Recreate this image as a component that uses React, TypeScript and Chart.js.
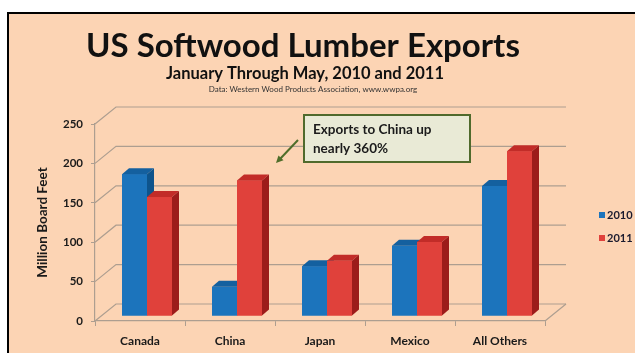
import React, { useEffect, useRef } from "react";
import { Chart, registerables } from "chart.js";

Chart.register(...registerables);

const categories = ["Canada", "China", "Japan", "Mexico", "All Others"];
const series2010 = [180, 37, 63, 89, 165];
const series2011 = [151, 172, 70, 94, 209];
const seriesLabels = ["2010", "2011"];
const yTicks = [0, 50, 100, 150, 200, 250];
const titleText = "US Softwood Lumber Exports";
const subtitleText = "January Through May, 2010 and 2011";
const sourceText = "Data: Western Wood Products Association, www.wwpa.org";
const yTitleText = "Million Board Feet";
const noteLines = ["Exports to China up", "nearly 360%"];

const FONT = "Lato, 'Open Sans', sans-serif";
const PEACH = "#FCD4B4";
const GRID = "#AD9E90";
const COLORS = [
  { front: "#1C74BC", top: "#14609F", side: "#0E548C" },
  { front: "#E0413B", top: "#C22C28", side: "#9C1C1A" },
];

// wall depth and bar placement inside the depth
const DX = 21, DY = -17;
const BX = 7, BY = -5;
const TX = 7, TY = -6;

const threeD = {
  id: "threeD",
  beforeDatasetsDraw(chart: any) {
    const { ctx, chartArea: a, scales } = chart;
    const y = scales.y;
    ctx.save();
    ctx.strokeStyle = GRID;
    ctx.lineWidth = 1.2;
    yTicks.forEach((v) => {
      const py = y.getPixelForValue(v);
      ctx.beginPath();
      ctx.moveTo(a.left, py);
      ctx.lineTo(a.left + DX, py + DY);
      ctx.lineTo(a.right + DX, py + DY);
      ctx.stroke();
    });
    const p0 = y.getPixelForValue(0);
    ctx.beginPath();
    ctx.moveTo(a.right, p0);
    ctx.lineTo(a.right + DX, p0 + DY);
    ctx.stroke();
    ctx.restore();
    ctx.save();
    ctx.translate(BX, BY);
  },
  afterDatasetsDraw(chart: any) {
    const { ctx } = chart;
    ctx.restore();
    ctx.save();
    ctx.translate(BX, BY);
    const metas = chart.data.datasets.map((_: any, i: number) => chart.getDatasetMeta(i));
    for (let c = 0; c < categories.length; c++) {
      metas.forEach((meta: any, di: number) => {
        const el = meta.data[c];
        const col = COLORS[di];
        const x0 = el.x - el.width / 2;
        const x1 = el.x + el.width / 2;
        const top = el.y;
        const base = el.base;
        ctx.fillStyle = col.front;
        ctx.fillRect(x0, top, x1 - x0, base - top);
        ctx.fillStyle = col.top;
        ctx.beginPath();
        ctx.moveTo(x0, top);
        ctx.lineTo(x1, top);
        ctx.lineTo(x1 + TX, top + TY);
        ctx.lineTo(x0 + TX, top + TY);
        ctx.closePath();
        ctx.fill();
        ctx.fillStyle = col.side;
        ctx.beginPath();
        ctx.moveTo(x1, top);
        ctx.lineTo(x1 + TX, top + TY);
        ctx.lineTo(x1 + TX, base + TY);
        ctx.lineTo(x1, base);
        ctx.closePath();
        ctx.fill();
      });
    }
    ctx.restore();
  },
  afterDraw(chart: any) {
    const { ctx } = chart;
    ctx.save();
    // titles
    ctx.fillStyle = "#111";
    ctx.textAlign = "center";
    ctx.textBaseline = "alphabetic";
    ctx.font = `bold 33px ${FONT}`;
    ctx.fillText(titleText, 303, 57);
    ctx.font = `bold 16.5px ${FONT}`;
    ctx.fillText(subtitleText, 305, 79);
    ctx.font = `8px ${FONT}`;
    ctx.fillStyle = "#333";
    ctx.fillText(sourceText, 313, 92);
    // legend
    ctx.textAlign = "left";
    ctx.textBaseline = "middle";
    ctx.font = `bold 11px ${FONT}`;
    seriesLabels.forEach((lab, i) => {
      const ly = 215 + i * 23;
      ctx.fillStyle = COLORS[i].front;
      ctx.fillRect(599, ly - 3, 6, 6);
      ctx.fillStyle = "#1A1A2E";
      ctx.fillText(lab, 607, ly);
    });
    // annotation
    ctx.fillStyle = "#E9EAD6";
    ctx.fillRect(304, 115, 166, 47);
    ctx.strokeStyle = "#506A2C";
    ctx.lineWidth = 2;
    ctx.strokeRect(304, 115, 166, 47);
    ctx.fillStyle = "#1B1B1B";
    ctx.font = `bold 13.5px ${FONT}`;
    ctx.fillText(noteLines[0], 313, 130);
    ctx.fillText(noteLines[1], 313, 149);
    // arrow
    ctx.strokeStyle = "#4F6E2A";
    ctx.fillStyle = "#4F6E2A";
    ctx.lineWidth = 2;
    const ax0 = 298, ay0 = 140, ax1 = 276, ay1 = 163;
    ctx.beginPath();
    ctx.moveTo(ax0, ay0);
    ctx.lineTo(ax1 + 4, ay1 - 4);
    ctx.stroke();
    const ang = Math.atan2(ay1 - ay0, ax1 - ax0);
    ctx.beginPath();
    ctx.moveTo(ax1, ay1);
    ctx.lineTo(ax1 - 8 * Math.cos(ang - 0.45), ay1 - 8 * Math.sin(ang - 0.45));
    ctx.lineTo(ax1 - 8 * Math.cos(ang + 0.45), ay1 - 8 * Math.sin(ang + 0.45));
    ctx.closePath();
    ctx.fill();
    ctx.restore();
  },
};

export default function App() {
  const ref = useRef<HTMLCanvasElement>(null);
  useEffect(() => {
    if (!ref.current) return;
    const chart = new Chart(ref.current, {
      type: "bar",
      data: {
        labels: categories,
        datasets: [
          { label: seriesLabels[0], data: series2010, backgroundColor: COLORS[0].front, clip: false as any },
          { label: seriesLabels[1], data: series2011, backgroundColor: COLORS[1].front, clip: false as any },
        ],
      },
      options: {
        responsive: false,
        animation: false,
        devicePixelRatio: 1,
        categoryPercentage: 50 / 90,
        barPercentage: 1,
        layout: { padding: { left: 32, right: 90, top: 124, bottom: 0 } },
        plugins: { legend: { display: false }, tooltip: { enabled: false }, title: { display: false } },
        scales: {
          x: {
            grid: { display: true, drawOnChartArea: false, tickLength: 5, color: GRID, offset: true },
            border: { color: GRID, width: 1.2 },
            ticks: { color: "#1A1A1A", padding: 8, font: { family: FONT, weight: 700, size: 12 } },
            afterFit: (s: any) => { s.height = 32; },
          },
          y: {
            min: 0,
            max: 250,
            afterBuildTicks: (s: any) => { s.ticks = yTicks.map((v) => ({ value: v })); },
            ticks: { color: "#1A1A1A", padding: 8, font: { family: FONT, weight: 700, size: 11.5 } },
            grid: { drawOnChartArea: false, tickLength: 4, color: GRID },
            border: { color: GRID, width: 1.2 },
            title: {
              display: true,
              text: yTitleText,
              color: "#1A1A1A",
              font: { family: FONT, weight: 700, size: 13.5 },
              padding: { top: 3, bottom: 4 },
            },
            afterFit: (s: any) => { s.width = 63; },
          },
        },
      } as any,
      plugins: [threeD],
    });
    return () => chart.destroy();
  }, []);
  return (
    <div style={{ position: "fixed", left: 0, top: 0, width: 635, height: 353, background: "#fff", overflow: "hidden" }}>
      <div
        style={{
          position: "absolute",
          left: 7,
          top: 12,
          right: 0,
          bottom: 0,
          background: PEACH,
          borderLeft: "2px solid #000",
          borderTop: "2px solid #000",
        }}
      />
      <canvas ref={ref} width={635} height={353} style={{ position: "absolute", left: 0, top: 0 }} />
    </div>
  );
}
